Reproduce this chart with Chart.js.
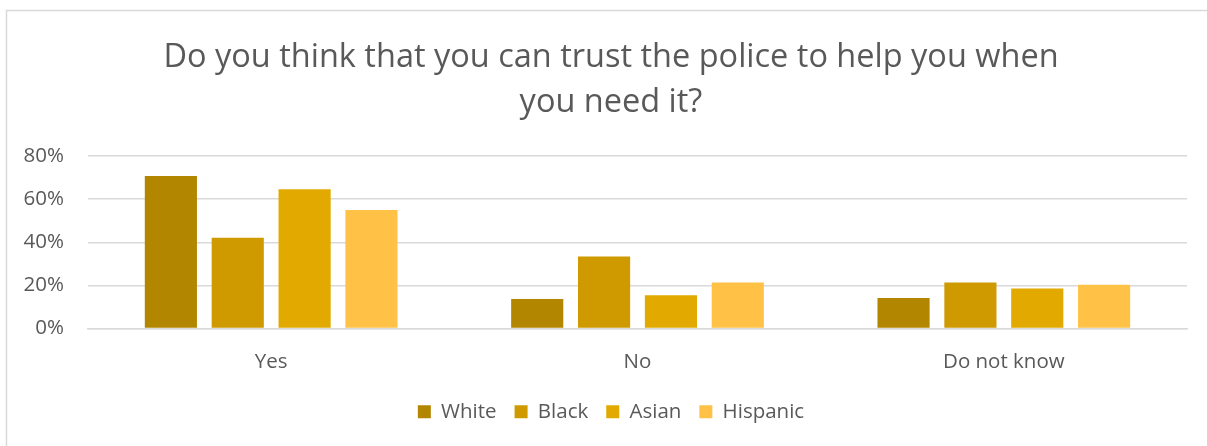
<!DOCTYPE html>
<html>
<head>
<meta charset="utf-8">
<script src="https://cdn.jsdelivr.net/npm/chart.js@4/dist/chart.umd.min.js"></script>
<style>
  html, body { margin: 0; padding: 0; background: #fff; }
  #wrap { position: relative; width: 1207px; height: 446px; }
</style>
</head>
<body>
<div id="wrap"><canvas id="c" width="1207" height="446"></canvas></div>
<script>
const categories = ["Yes", "No", "Do not know"];
const seriesNames = ["White", "Black", "Asian", "Hispanic"];
const white = [70.7, 13.7, 14.2];
const black = [42.1, 33.4, 21.3];
const asian = [64.6, 15.4, 18.6];
const hispanic = [55.0, 21.3, 20.3];
const colors = ["#B38600", "#CE9A00", "#E2AA00", "#FFC247"];
const yTicks = [0, 20, 40, 60, 80];
const titleLines = ["Do you think that you can trust the police to help you when", "you need it?"];

const FONT = "'Open Sans', 'DejaVu Sans', sans-serif";
const TXT = "#595959";

const frame = {
  id: "frame",
  beforeDraw(chart) {
    const ctx = chart.ctx;
    ctx.save();
    ctx.fillStyle = "#fff";
    ctx.fillRect(0, 0, chart.width, chart.height);
    ctx.strokeStyle = "#d9d9d9";
    ctx.lineWidth = 1.5;
    ctx.beginPath();
    ctx.moveTo(6.5, 460);
    ctx.lineTo(6.5, 10.5);
    ctx.lineTo(1220, 10.5);
    ctx.stroke();
    ctx.restore();
  }
};

const values = [white, black, asian, hispanic];
new Chart(document.getElementById("c"), {
  type: "bar",
  data: {
    labels: categories,
    datasets: seriesNames.map((n, i) => ({
      label: n,
      data: values[i],
      backgroundColor: colors[i],
      borderWidth: 0,
      categoryPercentage: 0.73,
      barPercentage: 0.78
    }))
  },
  options: {
    responsive: false,
    animation: false,
    devicePixelRatio: 1,
    layout: { padding: { left: 15, right: 0, top: 0, bottom: 14 } },
    plugins: {
      title: {
        display: true,
        text: titleLines,
        color: TXT,
        font: { family: FONT, size: 32.5, weight: "normal", lineHeight: "45px" },
        padding: { top: 35, bottom: 31 }
      },
      legend: {
        position: "bottom",
        labels: {
          color: TXT,
          font: { family: FONT, size: 20.5 },
          boxWidth: 13,
          boxHeight: 13,
          padding: 18
        }
      },
      tooltip: { enabled: false }
    },
    scales: {
      x: {
        grid: { display: false },
        border: { display: true, color: "#d9d9d9", width: 1.5 },
        ticks: { color: TXT, font: { family: FONT, size: 20.5 }, padding: 13 },
        afterFit(s) { s.height = 55; }
      },
      y: {
        min: 0, max: 80,
        afterBuildTicks(s) { s.ticks = yTicks.map(v => ({ value: v })); },
        grid: { color: "#d9d9d9", lineWidth: 1.5, drawTicks: false },
        border: { display: false },
        ticks: { color: TXT, font: { family: FONT, size: 20.5 }, padding: 24, callback: v => v + "%" },
        afterFit(s) { s.width = 73; }
      },
      yr: {
        position: "right",
        min: 0, max: 80,
        grid: { display: false, drawTicks: false },
        border: { display: false },
        ticks: { display: false },
        afterFit(s) { s.width = 20; }
      }
    }
  },
  plugins: [frame]
});
</script>
</body>
</html>
